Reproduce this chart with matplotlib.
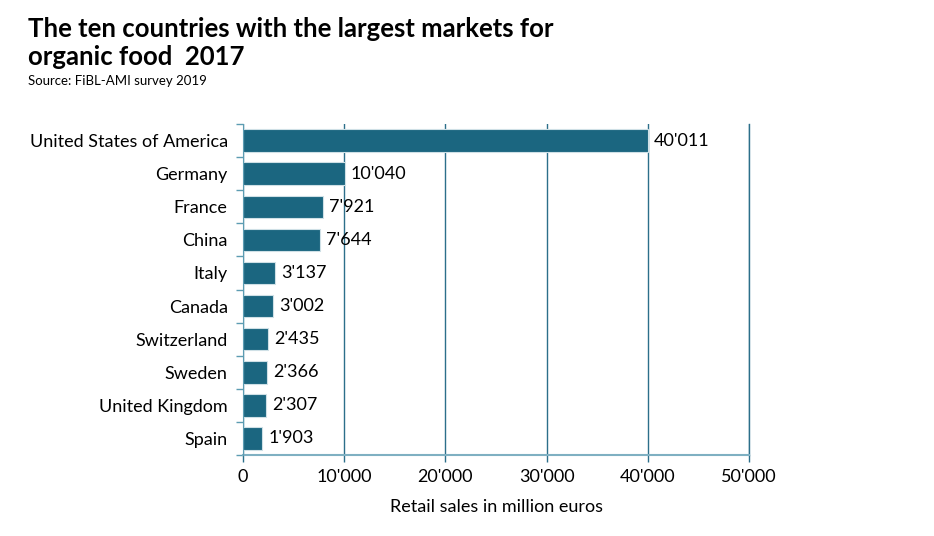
import matplotlib
matplotlib.use('Agg')
import matplotlib.pyplot as plt
import numpy as np

countries = ['United States of America', 'Germany', 'France', 'China', 'Italy',
             'Canada', 'Switzerland', 'Sweden', 'United Kingdom', 'Spain']
sales = [40011, 10040, 7921, 7644, 3137, 3002, 2435, 2366, 2307, 1903]
xticks = [0, 10000, 20000, 30000, 40000, 50000]

def fmt(v):
    return '{:,}'.format(v).replace(',', "'")

plt.rcParams['font.family'] = ['Lato', 'DejaVu Sans']

bar_col = '#1b6680'
grid_col = '#2c6f8a'

fig = plt.figure(figsize=(9.34, 5.36), dpi=100)
ax = fig.add_axes([0.2602, 0.1511, 0.5418, 0.6175])

y = np.arange(len(countries))
ax.barh(y, sales, height=0.68, color=bar_col, edgecolor='#cfe0e6', linewidth=0.8, zorder=3)
for yi, v in zip(y, sales):
    ax.text(v + 600, yi, fmt(v), va='center', ha='left', fontsize=13, color='black', zorder=4)

ax.set_xlim(0, 50000)
ax.set_ylim(len(countries) - 0.5, -0.5)
ax.set_xticks(xticks)
ax.set_xticklabels([fmt(t) for t in xticks], fontsize=13)
ax.set_yticks(y)
ax.set_yticklabels(countries, fontsize=13)
ax.set_yticks(np.arange(-0.5, len(countries)), minor=True)
ax.tick_params(axis='y', which='major', length=0, pad=11)
ax.tick_params(axis='y', which='minor', length=5, color='#5c9cb2', width=1)
ax.tick_params(axis='x', length=5, color=grid_col, width=1, pad=5)

ax.grid(axis='x', color=grid_col, linewidth=1, zorder=0)
ax.axvline(50000, color=grid_col, linewidth=1, zorder=0, clip_on=False)
for s in ['top', 'right']:
    ax.spines[s].set_visible(False)
ax.spines['left'].set_color('#5c9cb2')
ax.spines['bottom'].set_color('#7fb0c2')
ax.spines['bottom'].set_linewidth(1.5)
ax.spines['left'].set_zorder(5)

ax.set_xlabel('Retail sales in million euros', fontsize=13, labelpad=10)

fig.text(0.030, 0.931, 'The ten countries with the largest markets for',
         fontsize=18.5, fontweight='bold', va='baseline', ha='left')
fig.text(0.030, 0.879, 'organic food  2017',
         fontsize=18.5, fontweight='bold', va='baseline', ha='left')
fig.text(0.030, 0.841, 'Source: FiBL-AMI survey 2019', fontsize=9.5, ha='left', va='baseline')

fig.savefig('out.png', dpi=100)
